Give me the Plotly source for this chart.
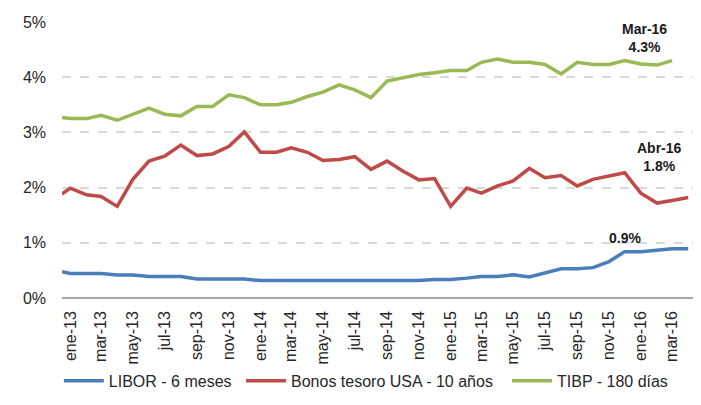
import pandas as pd
import plotly.graph_objects as go

# Fechas (primer punto a mediados de diciembre 2012, luego mensual ene-13 .. abr-16)
fechas = ["2012-12-16"] + [d.strftime("%Y-%m-%d") for d in pd.date_range("2013-01-01", "2016-04-01", freq="MS")]

libor = [0.475, 0.445, 0.445, 0.445, 0.415, 0.415, 0.39, 0.39, 0.39, 0.345,
         0.345, 0.345, 0.345, 0.315, 0.315, 0.315, 0.315, 0.315, 0.315, 0.315,
         0.315, 0.315, 0.315, 0.315, 0.335, 0.335, 0.36, 0.39, 0.39, 0.42,
         0.38, 0.46, 0.53, 0.53, 0.55, 0.66, 0.84, 0.84, 0.87, 0.89, 0.89]

bonos = [1.885, 1.99, 1.87, 1.84, 1.66, 2.15, 2.48, 2.57, 2.77, 2.58,
         2.61, 2.745, 3.01, 2.64, 2.64, 2.72, 2.64, 2.49, 2.51, 2.56,
         2.33, 2.48, 2.30, 2.14, 2.165, 1.66, 1.99, 1.90, 2.03, 2.12,
         2.35, 2.18, 2.22, 2.03, 2.15, 2.21, 2.27, 1.90, 1.72, 1.765, 1.82]

tibp = [3.27, 3.25, 3.25, 3.31, 3.22, 3.33, 3.44, 3.33, 3.30, 3.47,
        3.47, 3.68, 3.63, 3.50, 3.50, 3.545, 3.65, 3.73, 3.86, 3.77,
        3.63, 3.93, 3.99, 4.05, 4.08, 4.12, 4.12, 4.27, 4.33, 4.27,
        4.27, 4.23, 4.06, 4.27, 4.23, 4.23, 4.30, 4.24, 4.22, 4.30]

tick_labels = ["ene-13", "mar-13", "may-13", "jul-13", "sep-13", "nov-13",
               "ene-14", "mar-14", "may-14", "jul-14", "sep-14", "nov-14",
               "ene-15", "mar-15", "may-15", "jul-15", "sep-15", "nov-15",
               "ene-16", "mar-16"]
tick_vals = fechas[1::2]

series_names = ["LIBOR - 6 meses", "Bonos tesoro USA - 10 años", "TIBP - 180 días"]
colors = ["#4a7ebb", "#be4b48", "#98b954"]

FONT = "Liberation Sans, Arial, sans-serif"
TXT = "#262626"

legend_ids = ["legend", "legend2", "legend3"]
legend_x = [-0.005, 0.2828, 0.703]

fig = go.Figure()
for name, ys, col, lg in zip(series_names, [libor, bonos, tibp], colors, legend_ids):
    fig.add_trace(go.Scatter(x=fechas[:len(ys)], y=ys, mode="lines", name=name,
                             legend=lg, line=dict(color=col, width=3.5)))

ann_font = dict(family=FONT, size=14, color="#1a1a1a")
fig.add_annotation(x=fechas[len(tibp) - 1], y=tibp[-1], xref="x", yref="y",
                   text="<b>Mar-16</b><br><b>4.3%</b>", showarrow=False,
                   xshift=-28, yshift=4, yanchor="bottom", font=ann_font, align="center")
fig.add_annotation(x=fechas[len(bonos) - 1], y=bonos[-1], xref="x", yref="y",
                   text="<b>Abr-16</b><br><b>1.8%</b>", showarrow=False,
                   xshift=-29, yshift=22, yanchor="bottom", font=ann_font, align="center")
fig.add_annotation(x=fechas[36], y=libor[36], xref="x", yref="y",
                   text="<b>0.9%</b>", showarrow=False,
                   xshift=0, yshift=4, yanchor="bottom", font=ann_font, align="center")

legend_style = dict(orientation="h", xanchor="left", y=-0.30, yanchor="middle",
                    font=dict(family=FONT, size=16, color=TXT), itemwidth=40,
                    bgcolor="rgba(0,0,0,0)")

# the page body has an 8px margin, so the figure is sized to fit the window
fig.update_layout(
    width=693, height=397,
    margin=dict(l=54, r=6, t=10, b=107),
    paper_bgcolor="white", plot_bgcolor="white",
    font=dict(family=FONT, color=TXT, size=16),
    showlegend=True,
)
for lg, lx in zip(legend_ids, legend_x):
    fig.update_layout({lg: dict(legend_style, x=lx)})

fig.update_xaxes(type="date", range=["2012-12-16", "2016-04-14"],
                 tickmode="array", tickvals=tick_vals, ticktext=tick_labels,
                 tickangle=-90, tickfont=dict(family=FONT, size=16, color=TXT),
                 showgrid=False, showline=False, zeroline=False, ticks="",
                 ticklabelstandoff=9)
fig.update_yaxes(range=[0, 5], tickmode="array", tickvals=[0, 1, 2, 3, 4, 5],
                 ticktext=["0%", "1%", "2%", "3%", "4%", "5%"],
                 tickfont=dict(family=FONT, size=16, color=TXT),
                 showgrid=True, gridcolor="#d9d9d9", griddash="dash", gridwidth=1.5,
                 zeroline=True, zerolinecolor="#a6a6a6", zerolinewidth=2,
                 showline=False, ticks="", ticklabelstandoff=15)

fig.write_html("out.html")
